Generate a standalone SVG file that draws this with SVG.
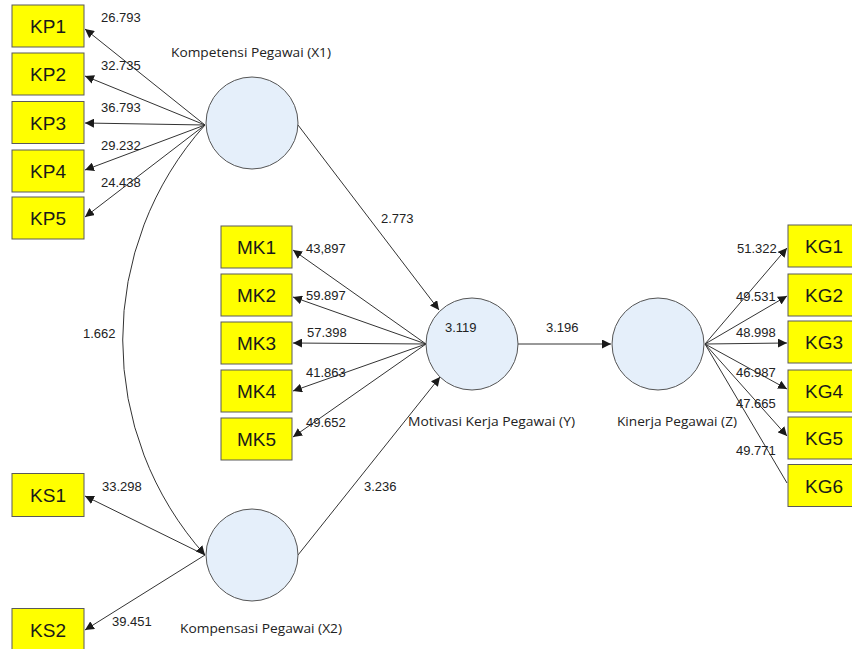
<svg xmlns="http://www.w3.org/2000/svg" width="852" height="649" viewBox="0 0 852 649">
<defs>
<marker id="ah" viewBox="0 0 10 10" refX="10" refY="5" markerWidth="9" markerHeight="9" markerUnits="userSpaceOnUse" orient="auto">
<path d="M0,0 L10,5 L0,10 Z" fill="#1a1a1a"/>
</marker>
<style>
.ind rect{fill:#ffff00;stroke:#5a5a5a;stroke-width:1}
.ind text{font-family:"Liberation Sans",Arial,sans-serif;font-size:19px;fill:#1a1a1a;text-anchor:middle}
.lv circle{fill:#e5effa;stroke:#555;stroke-width:1}
.name{font-family:"Open Sans","Noto Sans",sans-serif;font-size:13px;fill:#222}
.val{font-family:"Liberation Sans",Arial,sans-serif;font-size:13px;fill:#222}
#edges line,#edges path{stroke:#333;stroke-width:1;fill:none}
.arr{marker-end:url(#ah)}
</style>
</defs>
<rect width="852" height="649" fill="#ffffff"/>

<g id="edges">
<line class="arr" x1="205" y1="125" x2="85" y2="29"/>
<line class="arr" x1="205" y1="125" x2="85" y2="76"/>
<line class="arr" x1="205" y1="125" x2="85" y2="123"/>
<line class="arr" x1="205" y1="125" x2="85" y2="170"/>
<line class="arr" x1="205" y1="125" x2="85" y2="217"/>
<line class="arr" x1="426" y1="344" x2="293" y2="250"/>
<line class="arr" x1="426" y1="344" x2="293" y2="297"/>
<line class="arr" x1="426" y1="344" x2="293" y2="343"/>
<line class="arr" x1="426" y1="344" x2="293" y2="391"/>
<line class="arr" x1="426" y1="344" x2="293" y2="437"/>
<line class="arr" x1="705" y1="344" x2="787" y2="248"/>
<line class="arr" x1="705" y1="344" x2="787" y2="296"/>
<line class="arr" x1="705" y1="344" x2="787" y2="343"/>
<line class="arr" x1="705" y1="344" x2="787" y2="389"/>
<line class="arr" x1="705" y1="344" x2="787" y2="436"/>
<line x1="705" y1="344" x2="787" y2="483"/>
<line class="arr" x1="205" y1="555" x2="85" y2="496"/>
<line class="arr" x1="205" y1="555" x2="85" y2="630"/>
<line class="arr" x1="298" y1="125" x2="439" y2="310"/>
<line class="arr" x1="298" y1="555" x2="440" y2="377"/>
<line class="arr" x1="518" y1="344" x2="611" y2="344"/>
<path class="arr" d="M205,125 A322,322 0 0 0 205,555"/>
</g>

<g id="KP1" class="ind"><rect x="12" y="5" width="72" height="42"/><text x="48" y="33">KP1</text></g>
<g id="KP2" class="ind"><rect x="12" y="53" width="72" height="42"/><text x="48" y="81">KP2</text></g>
<g id="KP3" class="ind"><rect x="12" y="101.5" width="72" height="42"/><text x="48" y="129.5">KP3</text></g>
<g id="KP4" class="ind"><rect x="12" y="150" width="72" height="42"/><text x="48" y="178">KP4</text></g>
<g id="KP5" class="ind"><rect x="12" y="197" width="72" height="42"/><text x="48" y="225">KP5</text></g>

<g id="MK1" class="ind"><rect x="221" y="226" width="71" height="42"/><text x="256.5" y="254">MK1</text></g>
<g id="MK2" class="ind"><rect x="221" y="274" width="71" height="42"/><text x="256.5" y="302">MK2</text></g>
<g id="MK3" class="ind"><rect x="221" y="322" width="71" height="42"/><text x="256.5" y="350">MK3</text></g>
<g id="MK4" class="ind"><rect x="221" y="370" width="71" height="42"/><text x="256.5" y="398">MK4</text></g>
<g id="MK5" class="ind"><rect x="221" y="418" width="71" height="42"/><text x="256.5" y="446">MK5</text></g>

<g id="KG1" class="ind"><rect x="788" y="225" width="72" height="42"/><text x="824" y="253">KG1</text></g>
<g id="KG2" class="ind"><rect x="788" y="274" width="72" height="42"/><text x="824" y="302">KG2</text></g>
<g id="KG3" class="ind"><rect x="788" y="321" width="72" height="42"/><text x="824" y="349">KG3</text></g>
<g id="KG4" class="ind"><rect x="788" y="370" width="72" height="42"/><text x="824" y="398">KG4</text></g>
<g id="KG5" class="ind"><rect x="788" y="417" width="72" height="42"/><text x="824" y="445">KG5</text></g>
<g id="KG6" class="ind"><rect x="788" y="464.5" width="72" height="42"/><text x="824" y="492.5">KG6</text></g>

<g id="KS1" class="ind"><rect x="12" y="473.5" width="72" height="43"/><text x="48" y="502">KS1</text></g>
<g id="KS2" class="ind"><rect x="12" y="608.5" width="72" height="43"/><text x="48" y="637">KS2</text></g>

<g id="X1" class="lv"><circle cx="252" cy="123" r="46"/><text class="name" x="171" y="57" textLength="160" lengthAdjust="spacingAndGlyphs">Kompetensi Pegawai (X1)</text></g>
<g id="X2" class="lv"><circle cx="252" cy="555" r="46"/><text class="name" x="180" y="633" textLength="162" lengthAdjust="spacingAndGlyphs">Kompensasi Pegawai (X2)</text></g>
<g id="Y" class="lv"><circle cx="472" cy="344" r="46"/><text class="val" x="445" y="332">3.119</text><text class="name" x="408" y="426" textLength="167" lengthAdjust="spacingAndGlyphs">Motivasi Kerja Pegawai (Y)</text></g>
<g id="Z" class="lv"><circle cx="658" cy="344" r="46"/><text class="name" x="617" y="426" textLength="120" lengthAdjust="spacingAndGlyphs">Kinerja Pegawai (Z)</text></g>

<g id="labels" class="val">
<text x="101" y="22">26.793</text>
<text x="101" y="70">32.735</text>
<text x="101" y="112">36.793</text>
<text x="101" y="150">29.232</text>
<text x="101" y="187">24.438</text>
<text x="306" y="253">43,897</text>
<text x="306" y="300">59.897</text>
<text x="307" y="337">57.398</text>
<text x="306" y="377">41.863</text>
<text x="306" y="427">49.652</text>
<text x="737" y="253">51.322</text>
<text x="736" y="301">49.531</text>
<text x="736" y="337">48.998</text>
<text x="736" y="377">46.987</text>
<text x="736" y="408">47.665</text>
<text x="736" y="455">49.771</text>
<text x="102" y="491">33.298</text>
<text x="112" y="626">39.451</text>
<text x="381" y="223">2.773</text>
<text x="546" y="332">3.196</text>
<text x="364" y="491">3.236</text>
<text x="83" y="338">1.662</text>
</g>
</svg>
